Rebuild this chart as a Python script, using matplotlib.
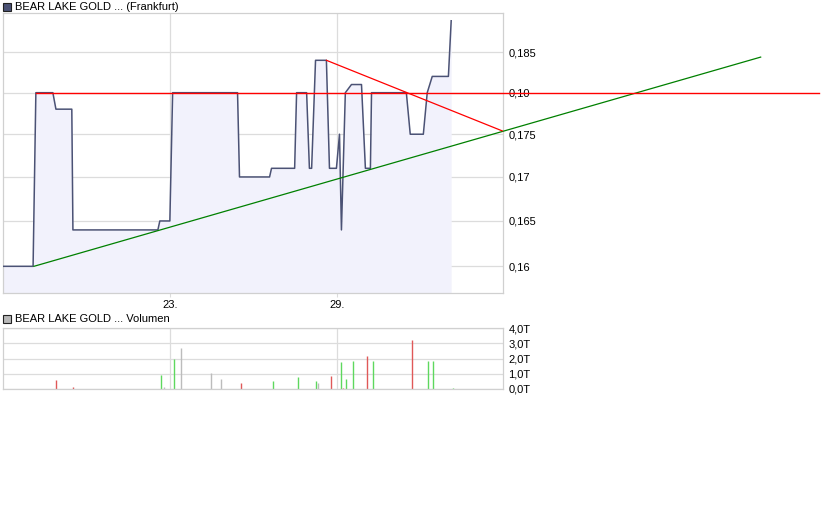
import matplotlib
matplotlib.use('Agg')
import matplotlib.pyplot as plt
from matplotlib.patches import Rectangle

plt.rcParams['font.family'] = ['Liberation Sans', 'DejaVu Sans']

# price path (day of month, price)
days = [17.0, 18.08, 18.18, 18.79, 18.90, 19.47, 19.51, 22.56, 22.63, 22.99,
        23.09, 25.42, 25.49, 26.57, 26.64, 27.47, 27.54, 27.90, 28.00, 28.08,
        28.22, 28.61, 28.72, 28.97, 29.08, 29.15, 29.29, 29.51, 29.87, 30.01,
        30.19, 30.23, 31.48, 31.62, 32.09, 32.23, 32.41, 32.99, 33.09]
prices = [0.160, 0.160, 0.180, 0.180, 0.178, 0.178, 0.164, 0.164, 0.165, 0.165,
          0.180, 0.180, 0.170, 0.170, 0.171, 0.171, 0.180, 0.180, 0.171, 0.171,
          0.184, 0.184, 0.171, 0.171, 0.175, 0.164, 0.180, 0.181, 0.181, 0.171,
          0.171, 0.180, 0.180, 0.175, 0.175, 0.180, 0.182, 0.182, 0.189]

# trend lines (start/end points)
green_x = [18.11, 44.2]
green_y = [0.160, 0.1844]
red_h_x = [18.18, 46.3]
red_h_y = [0.180, 0.180]
red_d_x = [28.61, 34.92]
red_d_y = [0.1840, 0.1754]

# volume bars (day, volume in T, colour key)
vol_days = [18.92, 19.53, 22.67, 22.77, 23.13, 23.40, 24.47, 24.82, 25.55, 26.70,
            27.59, 28.24, 28.31, 28.78, 29.14, 29.21, 29.32, 29.57, 30.05, 30.29,
            31.67, 32.27, 32.45, 33.17]
vol_vals = [0.61, 0.14, 0.95, 0.14, 1.97, 2.67, 1.08, 0.68, 0.41, 0.54,
            0.81, 0.54, 0.41, 0.88, 1.76, 0.07, 0.63, 1.85, 2.17, 1.85,
            3.21, 1.85, 1.85, 0.09]
vol_kind = ['r', 'r', 'g', 'n', 'g', 'n', 'n', 'n', 'r', 'g',
            'g', 'g', 'n', 'r', 'g', 'r', 'g', 'g', 'r', 'g',
            'r', 'g', 'g', 'g']

x_ticks = [23, 29]
x_labels = ['23.', '29.']
y_ticks = [0.16, 0.165, 0.17, 0.175, 0.18, 0.185]
y_labels = ['0,16', '0,165', '0,17', '0,175', '0,10', '0,185']
v_ticks = [0, 1, 2, 3, 4]
v_labels = ['0,0T', '1,0T', '2,0T', '3,0T', '4,0T']

W, H = 840, 525
fig = plt.figure(figsize=(8.4, 5.25), dpi=100)

grid_c = '#dcdcdc'
frame_c = '#d0d0d0'
line_c = '#4b5275'
fill_c = '#f2f2fc'
colours = {'r': '#e05858', 'g': '#5ed85e', 'n': '#bcbcbc'}

# ---- price panel
ax = fig.add_axes([3 / W, 1 - 293 / H, 500 / W, 280 / H])
ax.set_yscale('log')
ax.set_xlim(17, 34.95)
ax.set_ylim(0.15713, 0.19)
ax.fill_between(days, prices, 0.15, color=fill_c, lw=0, zorder=1)
ax.plot(days, prices, color=line_c, lw=1.1, zorder=3)
ax.plot(green_x, green_y, color='#008000', lw=0.9, clip_on=False, zorder=4)
ax.plot(red_h_x, red_h_y, color='#ff0000', lw=1.0, clip_on=False, zorder=4)
ax.plot(red_d_x, red_d_y, color='#ff0000', lw=0.9, clip_on=False, zorder=4)

ax.set_yticks(y_ticks)
ax.set_yticklabels(y_labels)
ax.yaxis.set_minor_locator(matplotlib.ticker.NullLocator())
ax.yaxis.tick_right()
ax.set_xticks(x_ticks)
ax.set_xticklabels(x_labels)
ax.tick_params(axis='y', length=0, pad=4, labelsize=8)
ax.tick_params(axis='x', length=3, color=grid_c, pad=2, labelsize=8)
ax.grid(True, color=grid_c, lw=0.9, zorder=0)
ax.set_axisbelow(True)
for s in ax.spines.values():
    s.set_color(frame_c)
    s.set_linewidth(0.9)

# ---- volume panel
av = fig.add_axes([3 / W, 1 - 389 / H, 500 / W, 61 / H])
av.set_xlim(17, 34.95)
av.set_ylim(0, 4)
av.vlines(vol_days, 0, vol_vals, colors=[colours[k] for k in vol_kind], lw=1.0)
av.set_yticks(v_ticks)
av.set_yticklabels(v_labels)
av.yaxis.tick_right()
av.set_xticks(x_ticks)
av.set_xticklabels([])
av.tick_params(axis='y', length=0, pad=4, labelsize=8)
av.tick_params(axis='x', length=0)
av.grid(True, color=grid_c, lw=0.9, zorder=0)
av.set_axisbelow(True)
for s in av.spines.values():
    s.set_color(frame_c)
    s.set_linewidth(0.9)

# ---- legend-style titles
fig.patches.append(Rectangle((3 / W, 1 - 11 / H), 8 / W, 8 / H, transform=fig.transFigure,
                             facecolor='#4b5275', edgecolor='#222222', lw=0.8))
fig.text(15 / W, 1 - 7 / H, 'BEAR LAKE GOLD ... (Frankfurt)', fontsize=8, va='center')
fig.patches.append(Rectangle((3 / W, 1 - 323 / H), 8 / W, 8 / H, transform=fig.transFigure,
                             facecolor='#b8b8b8', edgecolor='#222222', lw=0.8))
fig.text(15 / W, 1 - 319 / H, 'BEAR LAKE GOLD ... Volumen', fontsize=8, va='center')

fig.savefig('out.png', dpi=100)
